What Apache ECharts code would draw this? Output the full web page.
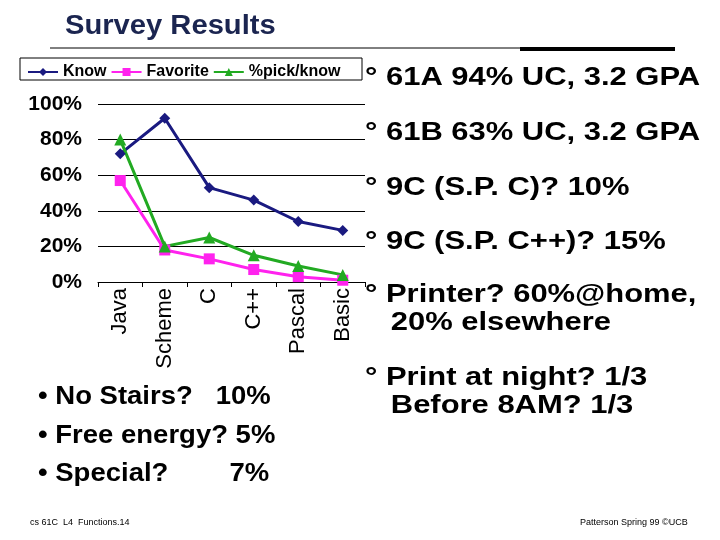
<!DOCTYPE html>
<html><head><meta charset="utf-8">
<script src="https://cdn.jsdelivr.net/npm/echarts@6/dist/echarts.min.js"></script>
<style>html,body{margin:0;padding:0;background:#fff}#c{width:720px;height:540px}</style>
</head><body><div id="c"></div>
<script>
const categories = ['Java','Scheme','C','C++','Pascal','Basic'];
const know = [72, 92, 53, 46, 34, 29];
const favorite = [57, 18, 13, 7, 3, 1];
const pickKnow = [80, 20, 25, 15, 9, 4];
const rightBullets = [
  ['° 61A 94% UC, 3.2 GPA', 80],
  ['° 61B 63% UC, 3.2 GPA', 135],
  ['° 9C (S.P. C)? 10%', 190],
  ['° 9C (S.P. C++)? 15%', 244],
  ['° Printer? 60%@home,', 297],
  ['   20% elsewhere', 325],
  ['° Print at night? 1/3', 380],
  ['   Before 8AM? 1/3', 408]
];
const leftBullets = [['• No Stairs?   10%', 400], ['• Free energy? 5%', 439], ['• Special?        7%', 477]];
const F = 'Liberation Sans, Arial, sans-serif';
const chart = echarts.init(document.getElementById('c'));
const g = [
  {type:'text', x:65, y:13, scaleX:1.08, style:{text:'Survey Results', font:'bold 27px '+F, fill:'#1b2550'}},
  {type:'line', shape:{x1:50,y1:48,x2:520,y2:48}, style:{stroke:'#000',lineWidth:1}},
  {type:'rect', shape:{x:520,y:47,width:155,height:4}, style:{fill:'#000'}},
  {type:'rect', shape:{x:20,y:58,width:342,height:22}, style:{fill:'none',stroke:'#000',lineWidth:1}},
  {type:'text', left:30, top:518, style:{text:'cs 61C  L4  Functions.14', font:'9px '+F, fill:'#000'}},
  {type:'text', left:580, top:518, style:{text:'Patterson Spring 99 ©UCB', font:'9px '+F, fill:'#000'}}
];
rightBullets.forEach(([t,y])=>g.push({type:'text', x:365, y:y-15, scaleX:1.19, style:{text:t, font:'bold 26px '+F, fill:'#000'}}));
leftBullets.forEach(([t,y])=>g.push({type:'text', x:38, y:y-15, scaleX:1.1, style:{text:t, font:'bold 25px '+F, fill:'#000'}}));
chart.setOption({
  animation:false,
  graphic:g,
  legend:{left:22, top:59, itemGap:4, itemWidth:30, itemHeight:10,
    textStyle:{fontSize:16, fontWeight:'bold', fontFamily:F, color:'#000'},
    data:['Know','Favorite','%pick/know']},
  grid:{left:98, top:104, width:267, height:178},
  xAxis:{type:'category', data:categories, boundaryGap:true,
    axisLine:{lineStyle:{color:'#000'}}, axisTick:{show:true, length:5, lineStyle:{color:'#000'}},
    axisLabel:{rotate:90, fontSize:22, fontFamily:F, color:'#000', margin:6}},
  yAxis:{type:'value', min:0, max:100, interval:20,
    axisLine:{show:false},
    axisLabel:{formatter:v=>v+'%', fontSize:21, fontWeight:'bold', fontFamily:F, color:'#000', margin:16},
    splitLine:{lineStyle:{color:'#000', width:1}}},
  series:[
    {name:'Know', type:'line', data:know, symbol:'diamond', symbolSize:11, color:'#1a1a80', lineStyle:{width:3}},
    {name:'Favorite', type:'line', data:favorite, symbol:'rect', symbolSize:11, color:'#ff22ee', lineStyle:{width:3}},
    {name:'%pick/know', type:'line', data:pickKnow, symbol:'triangle', symbolSize:12, color:'#22aa22', lineStyle:{width:3}}
  ]
});
</script></body></html>
